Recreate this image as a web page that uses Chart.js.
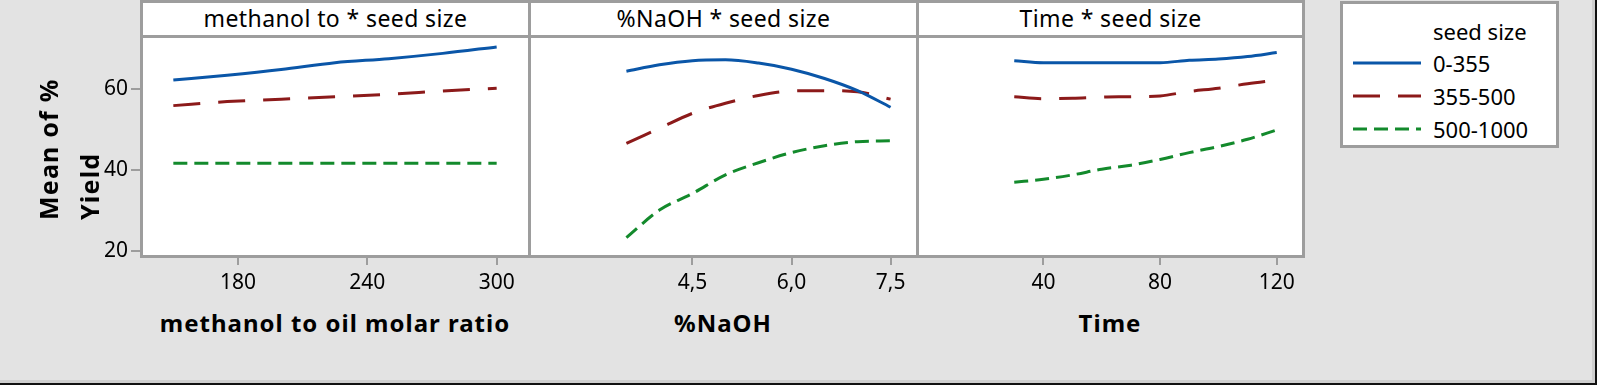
<!DOCTYPE html>
<html>
<head>
<meta charset="utf-8">
<script src="https://cdn.jsdelivr.net/npm/chart.js@4.4.0/dist/chart.umd.min.js"></script>
<style>
  html, body { margin: 0; padding: 0; }
  body { width: 1597px; height: 385px; background: #e3e3e3; position: relative; overflow: hidden; font-family: 'Noto Sans', 'Open Sans', sans-serif; }
  .frame { position: absolute; box-sizing: border-box; border: 3px solid #9d9d9d; background: #fff; }
  .strip { position: absolute; box-sizing: border-box; border: 3px solid #9d9d9d; background: #fff; text-align: center; font-size: 23px; line-height: 31px; letter-spacing: 0.4px; color: #000; white-space: nowrap; }
  canvas { position: absolute; }
  .xtitle { position: absolute; top: 306px; text-align: center; font-size: 24px; font-weight: bold; letter-spacing: 1px; color: #000; white-space: nowrap; }
  .ytitle { position: absolute; left: 28px; top: 20px; width: 84px; height: 200px; writing-mode: vertical-rl; transform: rotate(180deg); text-align: start; font-size: 25px; font-weight: bold; line-height: 41px; letter-spacing: 1.2px; color: #000; white-space: nowrap; }
  .legend { position: absolute; left: 1340px; top: 1px; width: 219px; height: 147px; box-sizing: border-box; border: 3px solid #9d9d9d; background: #fff; }
  .legend div { position: absolute; left: 90px; font-size: 22px; line-height: 26px; color: #000; white-space: nowrap; }
  .legend svg { position: absolute; left: 8px; }
  .outer { position: absolute; left: 0; top: 0; width: 1597px; height: 385px; box-sizing: border-box; border-right: 2px solid #111; border-bottom: 2px solid #111; }
  .inner { position: absolute; left: 0; top: 0; width: 1595px; height: 383px; box-sizing: border-box; border-right: 3px solid #cfcfcf; border-bottom: 3px solid #cfcfcf; }
</style>
</head>
<body>
<div class="inner"></div>
<div class="outer"></div>

<div class="frame" style="left:140px; top:0; width:391px; height:258px;"></div>
<div class="frame" style="left:528px; top:0; width:391px; height:258px;"></div>
<div class="frame" style="left:916px; top:0; width:389px; height:258px;"></div>
<div class="strip" style="left:140px; top:0; width:391px; height:38px;">methanol to * seed size</div>
<div class="strip" style="left:528px; top:0; width:391px; height:38px;">%NaOH * seed size</div>
<div class="strip" style="left:916px; top:0; width:389px; height:38px;">Time * seed size</div>

<canvas id="chart1" width="459" height="264" style="left:70px; top:36px;"></canvas>
<canvas id="chart2" width="388" height="264" style="left:529px; top:36px;"></canvas>
<canvas id="chart3" width="386" height="264" style="left:917px; top:36px;"></canvas>

<div class="xtitle" style="left:141px; width:388px;">methanol to oil molar ratio</div>
<div class="xtitle" style="left:529px; width:388px;">%NaOH</div>
<div class="xtitle" style="left:917px; width:386px;">Time</div>
<div class="ytitle">Mean of %<br>Yield</div>

<div class="legend" id="legend"></div>

<script>
// seed size groups
var seedSizes = ['0-355', '355-500', '500-1000'];
var lineColors = ['#0a56a8', '#8c1a1a', '#138a2c'];
var lineDashes = [[], [27, 18], [14, 7]];

// methanol to oil molar ratio
var methanolRatio = [150, 175, 200, 225, 250, 275, 300];
var methanolSmall = [62.2, 63.4, 64.8, 66.5, 67.5, 68.8, 70.4];
var methanolMedium = [55.9, 56.9, 57.5, 58.1, 58.7, 59.5, 60.2];
var methanolLarge = [41.7, 41.7, 41.7, 41.7, 41.7, 41.7, 41.7];

// %NaOH
var naohPct = [3.5, 4.0, 4.5, 5.0, 5.5, 6.0, 6.5, 7.0, 7.5];
var naohSmall = [64.4, 66.0, 67.0, 67.2, 66.4, 64.9, 62.6, 59.6, 55.5];
var naohMedium = [46.6, 50.3, 54.0, 56.5, 58.4, 59.5, 59.6, 59.3, 57.5];
var naohLarge = [23.3, 30.1, 34.2, 38.8, 41.8, 44.3, 46.0, 47.0, 47.2];

// Time
var timeMin = [30, 40, 50, 60, 70, 80, 90, 100, 110, 120];
var timeSmall = [67.0, 66.5, 66.5, 66.5, 66.5, 66.5, 67.1, 67.4, 68.0, 69.0];
var timeMedium = [58.1, 57.6, 57.7, 58.0, 58.1, 58.3, 59.4, 60.2, 61.3, 62.2];
var timeLarge = [37.0, 37.7, 38.8, 40.2, 41.2, 42.6, 44.3, 45.8, 47.6, 49.9];

// tick labels
var yTicks = [20, 40, 60];
var methanolTicks = [180, 240, 300];
var naohTicks = [4.5, 6.0, 7.5];
var timeTicks = [40, 80, 120];

var gridGray = '#9d9d9d';
var tickFont = { family: "'Noto Sans', 'Open Sans', sans-serif", size: 21 };

function toPoints(xs, ys) {
    return xs.map(function (x, i) { return { x: x, y: ys[i] }; });
}

function makeDatasets(xs, series) {
    return series.map(function (ys, i) {
        return {
            label: seedSizes[i],
            data: toPoints(xs, ys),
            borderColor: lineColors[i],
            borderWidth: 3,
            borderDash: lineDashes[i],
            pointRadius: 0,
            fill: false,
            cubicInterpolationMode: 'monotone'
        };
    });
}

function makeChart(id, xs, series, xMin, xMax, xTicks, showY, fmt) {
    var ctx = document.getElementById(id).getContext('2d');
    return new Chart(ctx, {
        type: 'line',
        data: { datasets: makeDatasets(xs, series) },
        options: {
            responsive: false,
            animation: false,
            devicePixelRatio: 1,
            layout: { padding: 0 },
            plugins: { legend: { display: false }, tooltip: { enabled: false } },
            scales: {
                x: {
                    type: 'linear',
                    min: xMin,
                    max: xMax,
                    afterBuildTicks: function (scale) {
                        scale.ticks = xTicks.map(function (v) { return { value: v }; });
                    },
                    afterFit: function (scale) {
                        scale.height = 44;
                        scale.paddingLeft = 0;
                        scale.paddingRight = 0;
                    },
                    grid: { drawOnChartArea: false, drawTicks: true, tickLength: 9, color: gridGray, lineWidth: 2 },
                    border: { display: false },
                    ticks: {
                        color: '#000',
                        font: tickFont,
                        padding: 5,
                        maxRotation: 0,
                        callback: fmt
                    }
                },
                y: {
                    type: 'linear',
                    display: showY,
                    min: 18.77,
                    max: 73.09,
                    afterBuildTicks: function (scale) {
                        scale.ticks = yTicks.map(function (v) { return { value: v }; });
                    },
                    afterFit: function (scale) {
                        scale.width = 71;
                        scale.paddingTop = 0;
                        scale.paddingBottom = 0;
                    },
                    grid: { drawOnChartArea: false, drawTicks: true, tickLength: 10, color: gridGray, lineWidth: 2 },
                    border: { display: false },
                    ticks: { color: '#000', font: tickFont, padding: 3 }
                }
            }
        }
    });
}

var chart1 = makeChart('chart1', methanolRatio, [methanolSmall, methanolMedium, methanolLarge],
    135, 315, methanolTicks, true, function (v) { return String(v); });
var chart2 = makeChart('chart2', naohPct, [naohSmall, naohMedium, naohLarge],
    3.1, 7.9, naohTicks, false, function (v) { return Number(v).toFixed(1).replace('.', ','); });
var chart3 = makeChart('chart3', timeMin, [timeSmall, timeMedium, timeLarge],
    21, 129, timeTicks, false, function (v) { return String(v); });

// legend
var legend = document.getElementById('legend');
var title = document.createElement('div');
title.textContent = 'seed size';
title.style.top = '14px';
legend.appendChild(title);
seedSizes.forEach(function (name, i) {
    var top = 46 + i * 33;
    var svg = document.createElementNS('http://www.w3.org/2000/svg', 'svg');
    svg.setAttribute('width', '72');
    svg.setAttribute('height', '10');
    svg.style.top = (top + 8) + 'px';
    var line = document.createElementNS('http://www.w3.org/2000/svg', 'line');
    line.setAttribute('x1', '2');
    line.setAttribute('x2', '70');
    line.setAttribute('y1', '5');
    line.setAttribute('y2', '5');
    line.setAttribute('stroke', lineColors[i]);
    line.setAttribute('stroke-width', '3');
    if (lineDashes[i].length) line.setAttribute('stroke-dasharray', lineDashes[i].join(' '));
    svg.appendChild(line);
    legend.appendChild(svg);
    var label = document.createElement('div');
    label.textContent = name;
    label.style.top = top + 'px';
    legend.appendChild(label);
});
</script>
</body>
</html>
